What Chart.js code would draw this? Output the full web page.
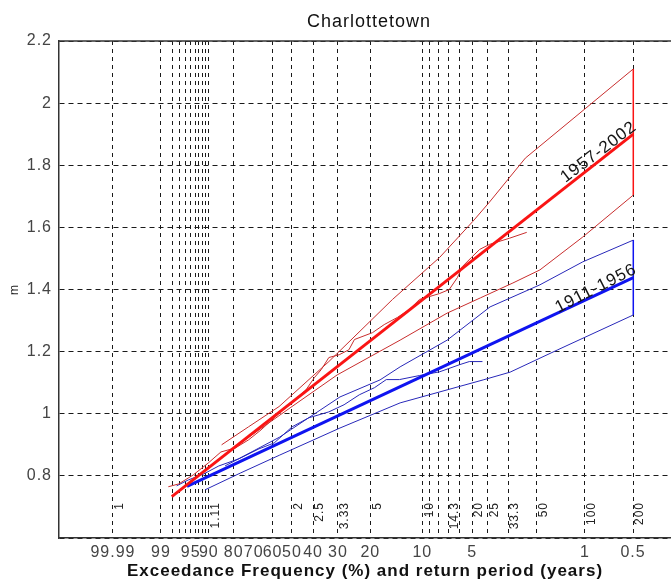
<!DOCTYPE html>
<html>
<head>
<meta charset="utf-8">
<script src="https://cdn.jsdelivr.net/npm/chart.js@4.4.1/dist/chart.umd.min.js"></script>
<style>
  html, body { margin: 0; padding: 0; background: #fff; overflow: hidden; }
</style>
</head>
<body>
<canvas id="chart" width="671" height="583"></canvas>
<script>
// x is the Gumbel reduced variate -ln(-ln(1 - p)), labelled as exceedance % and return period
const chartTitle = 'Charlottetown'

const freqLabels = [99.99, 99, 95, 90, 80, 70, 60, 50, 40, 30, 20, 10, 5, 1, 0.5]
const freqGrid = [99.99, 99, 98, 97, 96, 95, 94, 93, 92, 91, 90, 80, 60, 50, 40, 30, 20, 10, 9, 8, 7, 6, 5, 4, 3, 2, 1, 0.5]
const returnLabels = ['1', '1.11', '2', '2.5', '3.33', '5', '10', '14.3', '20', '25', '33.3', '50', '100', '200']
const returnFreqs = [99.99, 90, 50, 40, 30, 20, 10, 7, 5, 4, 3, 2, 1, 0.5]

// 1957-2002 (red)
const redFitX = [-1.37, 5.30]
const redFitY = [0.733, 1.900]
const redObsX = [-1.42, -1.27, -1.06, -0.84, -0.66, -0.45, -0.26, -0.08, 0.11, 0.32, 0.57, 0.69, 0.79, 0.90, 1.05, 1.19, 1.27, 1.53, 1.70, 1.89, 2.06, 2.21, 2.35, 2.50, 2.64, 2.76, 2.83, 2.96, 3.08, 3.22, 3.51, 3.76]
const redObsY = [0.765, 0.774, 0.803, 0.842, 0.877, 0.890, 0.916, 0.948, 0.987, 1.029, 1.077, 1.116, 1.142, 1.181, 1.190, 1.206, 1.239, 1.261, 1.287, 1.310, 1.335, 1.368, 1.377, 1.387, 1.400, 1.439, 1.474, 1.503, 1.529, 1.545, 1.565, 1.584]
const redUpX = [-0.65, -0.26, 0.18, 0.90, 1.82, 2.50, 2.98, 3.22, 3.74, 5.30]
const redUpY = [0.900, 0.958, 1.023, 1.168, 1.368, 1.503, 1.619, 1.681, 1.823, 2.110]
const redLoX = [-0.56, 0.34, 1.02, 1.93, 2.61, 3.09, 3.56, 3.95, 4.57, 5.30]
const redLoY = [0.877, 1.019, 1.125, 1.237, 1.324, 1.373, 1.421, 1.463, 1.569, 1.704]

// 1911-1956 (blue)
const blueFitX = [-1.15, 5.30]
const blueFitY = [0.766, 1.438]
const blueObsX = [-1.30, -1.13, -0.91, -0.69, -0.40, -0.11, 0.11, 0.37, 0.61, 0.90, 1.12, 1.34, 1.56, 1.73, 1.92, 2.21, 2.50, 2.79, 2.93, 3.12]
const blueObsY = [0.768, 0.787, 0.806, 0.832, 0.855, 0.887, 0.906, 0.958, 0.987, 1.006, 1.029, 1.061, 1.084, 1.110, 1.110, 1.123, 1.135, 1.158, 1.168, 1.168]
const blueUpX = [-0.60, 0.19, 1.06, 1.64, 1.93, 2.61, 3.23, 3.95, 4.57, 5.30]
const blueUpY = [0.832, 0.925, 1.054, 1.109, 1.151, 1.237, 1.344, 1.415, 1.489, 1.559]
const blueLoX = [-0.89, -0.38, 0.19, 1.06, 1.93, 3.13, 3.52, 4.20, 5.30]
const blueLoY = [0.755, 0.809, 0.867, 0.954, 1.035, 1.109, 1.134, 1.205, 1.318]

const gumbel = p => -Math.log(-Math.log(1 - p / 100))
const pts = (xs, ys) => xs.map((v, i) => ({ x: v, y: ys[i] }))

const tickFreqs = [...new Set([...freqGrid, ...freqLabels])].sort((a, b) => b - a)

const RED = 'rgb(250, 20, 20)'
const RED_THIN = 'rgb(200, 45, 45)'
const BLUE = 'rgb(15, 20, 240)'
const BLUE_THIN = 'rgb(40, 40, 185)'

function line(data, color, width, order) {
  return { data, borderColor: color, borderWidth: width, pointRadius: 0, tension: 0, fill: false, order }
}

const decorations = {
  id: 'decorations',
  beforeDraw(chart) {
    chart.ctx.letterSpacing = '1px'
  },
  afterDatasetsDraw(chart) {
    const { ctx, chartArea, scales: { x, y } } = chart
    ctx.save()

    // top frame line
    ctx.strokeStyle = '#333'
    ctx.lineWidth = 1.5
    ctx.beginPath()
    ctx.moveTo(chartArea.left, chartArea.top)
    ctx.lineTo(chartArea.right, chartArea.top)
    ctx.stroke()

    // title
    ctx.fillStyle = '#111'
    ctx.font = '18px "Liberation Sans", Arial, sans-serif'
    ctx.textAlign = 'center'
    ctx.textBaseline = 'middle'
    ctx.fillText(chartTitle, (chartArea.left + chartArea.right) / 2 + 4, 22)

    // return period labels
    ctx.font = '12px "Liberation Sans", Arial, sans-serif'
    ctx.fillStyle = '#222'
    ctx.textAlign = 'right'
    returnLabels.forEach((t, i) => {
      const px = x.getPixelForValue(gumbel(returnFreqs[i])) + 7
      ctx.save()
      ctx.translate(px, chartArea.bottom - 36)
      ctx.rotate(-Math.PI / 2)
      ctx.fillText(t, 0, 0)
      ctx.restore()
    })

    // period labels along the fitted lines
    ctx.font = '17px "Liberation Sans", Arial, sans-serif'
    ctx.fillStyle = '#151515'
    ctx.textAlign = 'center'
    const tags = [['1957-2002', 4.80, 1.842, -37], ['1911-1956', 4.76, 1.403, -27]]
    tags.forEach(([t, gx, m, deg]) => {
      ctx.save()
      ctx.translate(x.getPixelForValue(gx), y.getPixelForValue(m))
      ctx.rotate(deg * Math.PI / 180)
      ctx.fillText(t, 0, 0)
      ctx.restore()
    })
    ctx.restore()
  }
}

Chart.defaults.font.family = '"Liberation Sans", Arial, sans-serif'

new Chart(document.getElementById('chart'), {
  type: 'line',
  data: {
    datasets: [
      line(pts(redFitX, redFitY), RED, 3, 0),
      line(pts(blueFitX, blueFitY), BLUE, 3, 0),
      line(pts(redObsX, redObsY), RED_THIN, 1, 1),
      line(pts(blueObsX, blueObsY), BLUE_THIN, 1, 1),
      line(pts(redUpX, redUpY), RED_THIN, 1, 1),
      line(pts(redLoX, redLoY), RED_THIN, 1, 1),
      line(pts(blueUpX, blueUpY), BLUE_THIN, 1, 1),
      line(pts(blueLoX, blueLoY), BLUE_THIN, 1, 1),
      line(pts([redUpX[redUpX.length - 1], redLoX[redLoX.length - 1]], [redUpY[redUpY.length - 1], redLoY[redLoY.length - 1]]), RED, 1.5, 1),
      line(pts([blueUpX[blueUpX.length - 1], blueLoX[blueLoX.length - 1]], [blueUpY[blueUpY.length - 1], blueLoY[blueLoY.length - 1]]), BLUE, 1.5, 1)
    ]
  },
  options: {
    responsive: false,
    animation: false,
    devicePixelRatio: 1,
    layout: { padding: { top: 41, left: 0, right: 0, bottom: 0 } },
    plugins: {
      legend: { display: false },
      tooltip: { enabled: false }
    },
    scales: {
      x: {
        type: 'linear',
        min: -3,
        max: 5.845,
        afterBuildTicks: scale => {
          scale.ticks = tickFreqs.map(f => ({ value: gumbel(f) }))
        },
        afterFit: scale => { scale.height = 45 },
        ticks: {
          autoSkip: false,
          maxRotation: 0,
          minRotation: 0,
          padding: 5,
          color: '#444',
          font: { size: 16 },
          callback: (value, index) => freqLabels.includes(tickFreqs[index]) ? String(tickFreqs[index]) : ''
        },
        grid: {
          drawTicks: false,
          lineWidth: 1,
          color: ctx => freqGrid.includes(tickFreqs[ctx.index]) ? '#1a1a1a' : 'rgba(0,0,0,0)'
        },
        border: { display: true, color: '#333', width: 1.5, dash: [4, 4] },
        title: {
          display: true,
          text: 'Exceedance Frequency (%) and return period (years)',
          color: '#111',
          font: { size: 17, weight: 'bold' },
          padding: { top: 0, bottom: 1 }
        }
      },
      y: {
        min: 0.6,
        max: 2.2,
        afterFit: scale => { scale.width = 59 },
        ticks: {
          stepSize: 0.2,
          padding: 7,
          color: '#444',
          font: { size: 16 },
          callback: v => Math.abs(v - 0.6) < 1e-6 ? '' : String(+v.toFixed(1))
        },
        grid: { drawTicks: false, lineWidth: 1, color: '#1a1a1a' },
        border: { display: true, color: '#333', width: 1.5, dash: [5, 4] },
        title: {
          display: true,
          text: 'm',
          color: '#222',
          font: { size: 12 },
          padding: { top: 7, bottom: 0 }
        }
      }
    }
  },
  plugins: [decorations]
})
</script>
</body>
</html>
